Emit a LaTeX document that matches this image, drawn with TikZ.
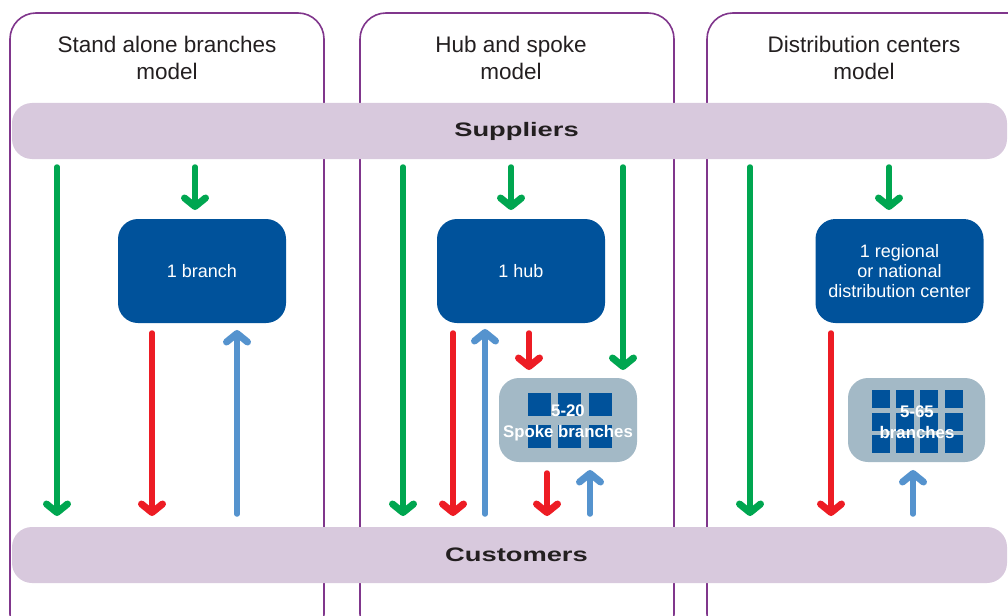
\documentclass[tikz,border=0pt]{standalone}
\usepackage{fontspec}
\setmainfont{Liberation Sans}
\definecolor{pur}{HTML}{80368C}
\definecolor{bandc}{HTML}{D8C9DD}
\definecolor{dblue}{HTML}{00529B}
\definecolor{gboxc}{HTML}{A3B9C6}
\definecolor{ag}{HTML}{00A650}
\definecolor{ar}{HTML}{ED1C24}
\definecolor{ab}{HTML}{5593CE}
\definecolor{tx}{HTML}{231F20}
\newcommand{\myband}[1]{\hspace*{14pt}\raisebox{-1.5pt}{\scalebox{1.4}[1]{\fontsize{19.5}{19.5}\selectfont\bfseries #1}}}
\begin{document}
\begin{tikzpicture}[x=1pt,y=-1pt,
 colbox/.style={draw=pur,line width=1.6pt,rounded corners=26pt},
 bandbox/.style={fill=bandc,rounded corners=20pt,minimum width=995pt,minimum height=56pt,inner sep=0pt,text=tx},
 titletext/.style={align=center,text=tx,font=\fontsize{22.5}{27}\selectfont},
 bluebox/.style={fill=dblue,rounded corners=20pt,minimum width=168pt,minimum height=104pt,inner sep=0pt,text=white,align=center,font=\fontsize{18}{20}\selectfont},
 graybox/.style={fill=gboxc,rounded corners=20pt,minimum height=84pt,inner sep=0pt},
 graytext/.style={text=white,align=center,font=\fontsize{16.8}{21}\selectfont\bfseries},
 sq/.style={fill=dblue},
 shaft/.style={line width=5.5pt,line cap=round},
 garr/.style={shaft,draw=ag},
 rarr/.style={shaft,draw=ar},
 barr/.style={shaft,draw=ab},
 chevdown/.pic={\draw[line width=7pt,line cap=round,line join=round] (-10.5,-8.5) -- (0,0) -- (10.5,-8.5);},
 chevup/.pic={\draw[line width=7pt,line cap=round,line join=round] (-10.5,8.5) -- (0,0) -- (10.5,8.5);}
]
\useasboundingbox (0,0) rectangle (1008,615);
\begin{scope}
\clip (0,0) rectangle (1008,615);
\draw[colbox] (10,13) rectangle (324,640);
\draw[colbox] (360,13) rectangle (674,640);
\draw[colbox] (707,13) rectangle (1040,640);
\end{scope}

\node[titletext] (t1) at (167,57.5) {Stand alone branches\\model};
\node[titletext] (t2) at (511,57.5) {Hub and spoke\\model};
\node[titletext] (t3) at (864,57.5) {Distribution centers\\model};

\node[bandbox] (sup) at (509.5,131) {\myband{Suppliers}};
\node[bandbox] (cus) at (509.5,555) {\myband{Customers}};

\node[bluebox] (b1) at (202,271) {1 branch};
\node[bluebox] (b2) at (521,271) {1 hub};
\node[bluebox] (b3) at (899.5,271) {1 regional\\or national\\distribution center};

% spoke branches
\node[graybox,minimum width=138pt] (g2) at (568,420) {};
\foreach \x in {528,558,589}{
  \fill[sq] (\x,393) rectangle ++(23,23);
  \fill[sq] (\x,425) rectangle ++(23,23);
}
\node[graytext] (g2t) at (568,422.5) {5-20\\Spoke branches};

% distribution branches
\node[graybox,minimum width=137pt] (g3) at (916.5,420) {};
\foreach \x in {872,896,920,945}{
  \foreach \y in {390,413,435}{
    \fill[sq] (\x,\y) rectangle ++(18,18);
  }
}
\node[graytext] (g3t) at (917,422.5) {5-65\\branches};

% column 1
\draw[garr] (57,167) -- (57,512.5) pic[ag]{chevdown};
\draw[garr] (195,167) -- (195,206.5) pic[ag]{chevdown};
\draw[rarr] (152,333) -- (152,512.5) pic[ar]{chevdown};
\draw[barr] (237,514) -- (237,333.5) pic[ab]{chevup};
% column 2
\draw[garr] (403,167) -- (403,512.5) pic[ag]{chevdown};
\draw[garr] (511,167) -- (511,206.5) pic[ag]{chevdown};
\draw[garr] (623,167) -- (623,366.5) pic[ag]{chevdown};
\draw[rarr] (453,333) -- (453,512.5) pic[ar]{chevdown};
\draw[barr] (485,514) -- (485,332.5) pic[ab]{chevup};
\draw[rarr] (529,333) -- (529,366.5) pic[ar]{chevdown};
\draw[rarr] (547,473) -- (547,512.5) pic[ar]{chevdown};
\draw[barr] (590,514) -- (590,473.5) pic[ab]{chevup};
% column 3
\draw[garr] (750,167) -- (750,512.5) pic[ag]{chevdown};
\draw[garr] (889,167) -- (889,206.5) pic[ag]{chevdown};
\draw[rarr] (831,333) -- (831,512.5) pic[ar]{chevdown};
\draw[barr] (913,514) -- (913,473.5) pic[ab]{chevup};
\end{tikzpicture}
\end{document}
